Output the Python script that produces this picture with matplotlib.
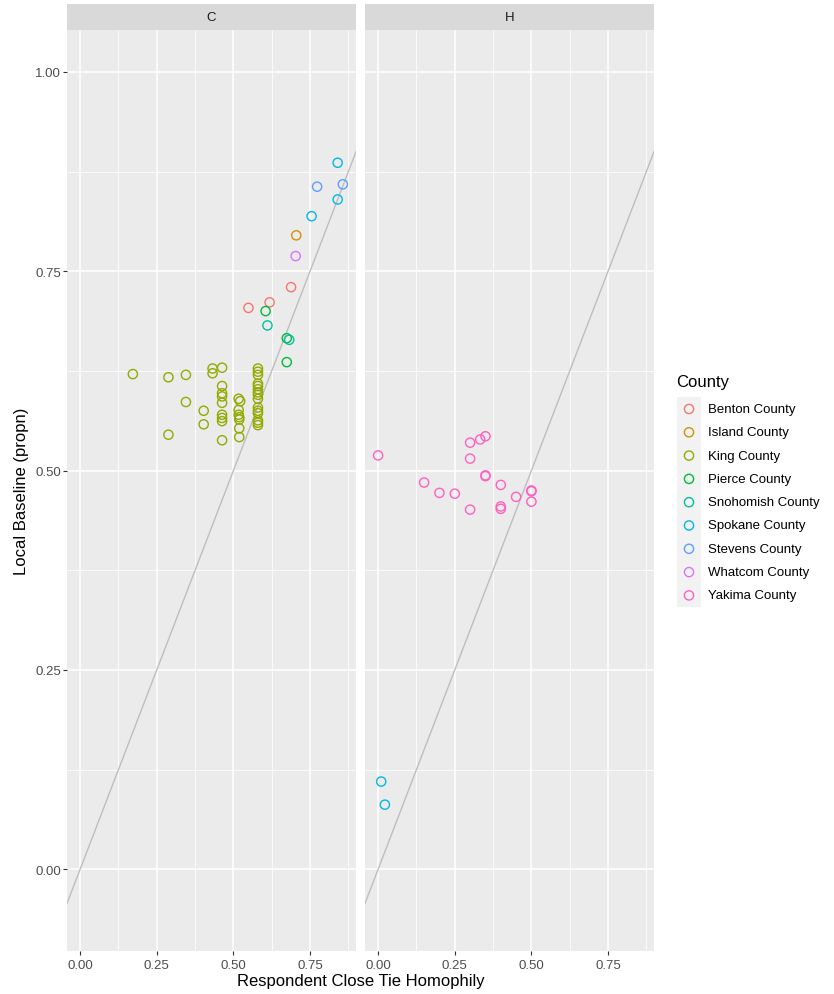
import matplotlib
matplotlib.use("Agg")
import matplotlib.pyplot as plt
from matplotlib.patches import Rectangle
import numpy as np

plt.rcParams['font.family'] = ['Liberation Sans', 'DejaVu Sans']

# ---- data -------------------------------------------------------------
counties = ["Benton County", "Island County", "King County", "Pierce County",
            "Snohomish County", "Spokane County", "Stevens County",
            "Whatcom County", "Yakima County"]
county_colors = ["#F8766D", "#D39200", "#93AA00", "#00BA38", "#00C19F",
                 "#00B9E3", "#619CFF", "#DB72FB", "#FF61C3"]

# panel C
king_x = [0.172, 0.288, 0.288, 0.345, 0.345, 0.403, 0.403, 0.432, 0.432, 0.463,
          0.463, 0.463, 0.463, 0.463, 0.463, 0.463, 0.463, 0.463,
          0.517, 0.522, 0.517, 0.517, 0.519, 0.519, 0.519, 0.519,
          0.58, 0.58, 0.58, 0.58, 0.58, 0.58, 0.58, 0.58, 0.58, 0.58,
          0.58, 0.58, 0.58, 0.58, 0.58]
king_y = [0.621, 0.617, 0.545, 0.620, 0.586, 0.575, 0.558, 0.628, 0.622, 0.629,
          0.606, 0.597, 0.593, 0.585, 0.570, 0.566, 0.562, 0.538,
          0.590, 0.587, 0.576, 0.570, 0.567, 0.564, 0.553, 0.542,
          0.628, 0.624, 0.620, 0.609, 0.606, 0.602, 0.598, 0.595, 0.590, 0.579,
          0.575, 0.572, 0.563, 0.560, 0.557]
benton_x = [0.549, 0.618, 0.688]
benton_y = [0.704, 0.711, 0.730]
island_x = [0.705]
island_y = [0.795]
pierce_x = [0.605, 0.674, 0.674]
pierce_y = [0.700, 0.666, 0.636]
snohomish_x = [0.611, 0.682]
snohomish_y = [0.682, 0.664]
spokane_c_x = [0.840, 0.840, 0.755]
spokane_c_y = [0.886, 0.840, 0.819]
stevens_x = [0.773, 0.857]
stevens_y = [0.856, 0.859]
whatcom_x = [0.703]
whatcom_y = [0.769]

# panel H
yakima_x = [0.0, 0.15, 0.2, 0.25, 0.3, 0.3, 0.3, 0.333, 0.35, 0.35, 0.35,
            0.4, 0.4, 0.4, 0.45, 0.5, 0.5, 0.5]
yakima_y = [0.519, 0.485, 0.472, 0.471, 0.535, 0.515, 0.451, 0.539, 0.543,
            0.494, 0.493, 0.482, 0.455, 0.452, 0.467, 0.475, 0.474, 0.461]
spokane_h_x = [0.010, 0.022]
spokane_h_y = [0.110, 0.081]

panel_labels = ["C", "H"]
x_ticks = [0.0, 0.25, 0.5, 0.75]
x_ticklabels = ["0.00", "0.25", "0.50", "0.75"]
y_ticks = [0.0, 0.25, 0.5, 0.75, 1.0]
y_ticklabels = ["0.00", "0.25", "0.50", "0.75", "1.00"]

panel_c = [
    ("Benton County", benton_x, benton_y),
    ("Island County", island_x, island_y),
    ("King County", king_x, king_y),
    ("Pierce County", pierce_x, pierce_y),
    ("Snohomish County", snohomish_x, snohomish_y),
    ("Spokane County", spokane_c_x, spokane_c_y),
    ("Stevens County", stevens_x, stevens_y),
    ("Whatcom County", whatcom_x, whatcom_y),
]
panel_h = [
    ("Spokane County", spokane_h_x, spokane_h_y),
    ("Yakima County", yakima_x, yakima_y),
]

# ---- scales -----------------------------------------------------------
all_x = np.concatenate([np.asarray(v[1]) for v in panel_c + panel_h])
xr = all_x.max() - all_x.min()
xlim = (all_x.min() - 0.05 * xr, all_x.max() + 0.05 * xr)
y_lo, y_hi = -0.05, 1.0
yr = y_hi - y_lo
ylim = (y_lo - 0.05 * yr, y_hi + 0.05 * yr)

color_of = dict(zip(counties, county_colors))

# ---- figure -----------------------------------------------------------
W, H = 834, 995
fig = plt.figure(figsize=(W / 100, H / 100), dpi=100)
fig.patch.set_facecolor("white")


def px_rect(x0, y0, x1, y1):
    return [x0 / W, 1 - y1 / H, (x1 - x0) / W, (y1 - y0) / H]


panel_px = [(67, 356), (365, 654)]
panel_top, panel_bot = 31, 952
strip_top = 5

for i, (data, lab) in enumerate(zip([panel_c, panel_h], panel_labels)):
    x0, x1 = panel_px[i]
    ax = fig.add_axes(px_rect(x0, panel_top, x1, panel_bot))
    ax.set_facecolor("#EBEBEB")
    ax.set_xlim(*xlim)
    ax.set_ylim(*ylim)
    for s in ax.spines.values():
        s.set_visible(False)

    # grid
    for gx in [-0.125, 0.125, 0.375, 0.625, 0.875]:
        ax.axvline(gx, color="white", lw=0.55, zorder=0.5)
    for gy in [-0.125, 0.125, 0.375, 0.625, 0.875]:
        ax.axhline(gy, color="white", lw=0.55, zorder=0.5)
    for gx in x_ticks:
        ax.axvline(gx, color="white", lw=1.1, zorder=0.6)
    for gy in y_ticks:
        ax.axhline(gy, color="white", lw=1.1, zorder=0.6)

    # reference line y = x
    ax.axline((0, 0), slope=1, color="#BEBEBE", lw=1.0, zorder=1)

    for name, xs, ys in data:
        ax.scatter(xs, ys, s=44, facecolors="none",
                   edgecolors=color_of[name], linewidths=1.0, zorder=3)

    ax.set_xticks(x_ticks)
    ax.set_xticklabels(x_ticklabels)
    ax.set_yticks(y_ticks)
    ax.tick_params(axis="both", length=3.0, width=0.8, color="#333333",
                   labelsize=9.5, labelcolor="#4D4D4D", pad=1.5)
    ax.tick_params(axis="x", pad=3)
    if i == 0:
        ax.set_yticklabels(y_ticklabels)
    else:
        ax.tick_params(axis="y", length=0, labelleft=False)

    # facet strip
    sax = fig.add_axes(px_rect(x0, strip_top, x1, panel_top))
    sax.set_xlim(0, 1)
    sax.set_ylim(0, 1)
    sax.axis("off")
    sax.add_patch(Rectangle((0, 0), 1, 1, facecolor="#D9D9D9",
                            edgecolor="none"))
    sax.text(0.5, 0.5, lab, ha="center", va="center", fontsize=9.5,
             color="#1A1A1A")

# axis titles
fig.text((67 + 654) / 2 / W, 1 - 982 / H, "Respondent Close Tie Homophily",
         ha="center", va="center", fontsize=12)
fig.text(22 / W, 1 - (panel_top + panel_bot) / 2 / H, "Local Baseline (propn)",
         ha="center", va="center", rotation=90, fontsize=12)

# legend
fig.text(676 / W, 1 - 383 / H, "County", ha="left", va="center", fontsize=12)
lax = fig.add_axes(px_rect(677, 398, 701, 608))
lax.set_xlim(0, 1)
lax.set_ylim(608, 398)
lax.axis("off")
lax.add_patch(Rectangle((0, 398), 1, 210, facecolor="#F2F2F2",
                        edgecolor="none"))
row_y = 410.0
for name, col in zip(counties, county_colors):
    lax.scatter([0.5], [row_y], s=44, facecolors="none", edgecolors=col,
                linewidths=1.0)
    fig.text(708 / W, 1 - row_y / H, name, ha="left", va="center",
             fontsize=9.5, color="black")
    row_y += 23.3

fig.savefig("out.png", dpi=100)
